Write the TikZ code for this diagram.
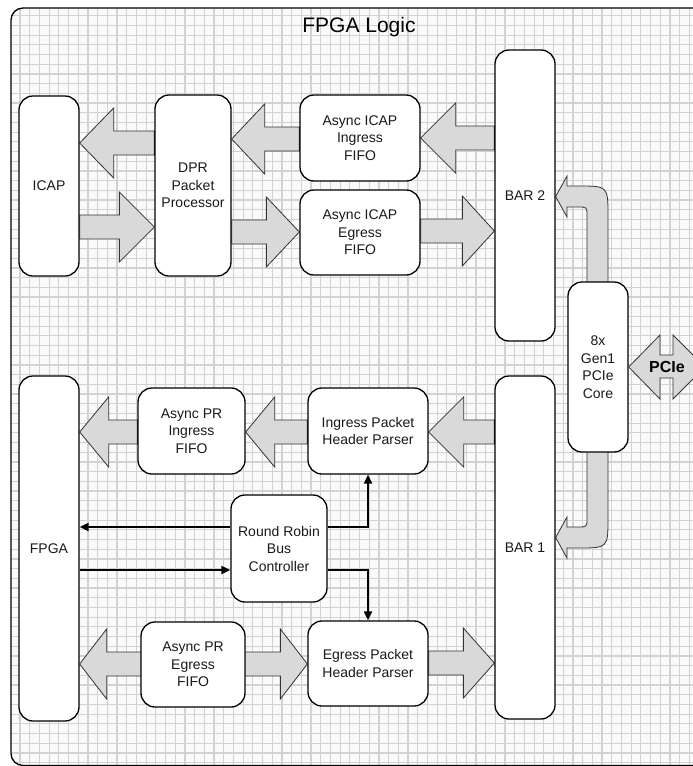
\documentclass[tikz,border=0pt]{standalone}
\usepackage{fontspec}
\setmainfont{Liberation Sans}
\usetikzlibrary{arrows.meta,calc}
\pgfdeclarelayer{gridlayer}
\pgfdeclarelayer{arrowlayer}
\pgfsetlayers{gridlayer,arrowlayer,main}
\definecolor{gridc}{HTML}{D2D2D2}
\definecolor{bgc}{HTML}{FAFAFA}
\definecolor{arrfill}{HTML}{D9D9D9}
\definecolor{arrdraw}{HTML}{333333}
\tikzset{
  box/.style={draw=black, line width=1.3pt, fill=white, rounded corners=14pt,
    align=center, font=\fontsize{14}{17.5}\selectfont, inner sep=2pt, text=black!90},
  blk/.style={fill=arrfill, draw=arrdraw, line width=0.8pt, line join=miter},
  sig/.style={draw=black, line width=2pt, -{Triangle[length=9pt,width=8pt]}},
}
% #1 tail anchor, #2 tip anchor, #3 pixel y, #4 head length
\newcommand\blkarrow[4]{%
  \path[blk] let \p1=(#1), \p2=(#2), \p3=(0,#3),
    \n1={ifthenelse(\x2>\x1,1,-1)} in
    (\x1,{\y3+12pt}) -- ({\x2-(\n1)*#4pt},{\y3+12pt}) -- ({\x2-(\n1)*#4pt},{\y3+35pt})
    -- (\x2,\y3) -- ({\x2-(\n1)*#4pt},{\y3-35pt}) -- ({\x2-(\n1)*#4pt},{\y3-12pt})
    -- (\x1,{\y3-12pt}) -- cycle;}
% double arrow: #1 left tip anchor, #2 right tip anchor, #3 pixel y, #4 head length
\newcommand\dblarrow[4]{%
  \path[blk] let \p1=(#1), \p2=(#2), \p3=(0,#3) in
    (\x1,\y3) -- ({\x1+#4pt},{\y3+35pt}) -- ({\x1+#4pt},{\y3+12pt})
    -- ({\x2-#4pt},{\y3+12pt}) -- ({\x2-#4pt},{\y3+35pt}) -- (\x2,\y3)
    -- ({\x2-#4pt},{\y3-35pt}) -- ({\x2-#4pt},{\y3-12pt})
    -- ({\x1+#4pt},{\y3-12pt}) -- ({\x1+#4pt},{\y3-35pt}) -- cycle;}
\begin{document}
\begin{tikzpicture}[x=1pt,y=-1pt]
\useasboundingbox (0,0) rectangle (693,766);
% frame background and grid
\begin{pgfonlayer}{gridlayer}
  \path[fill=bgc, rounded corners=12pt] (11,8) rectangle (720,765.5);
  \begin{scope}
    \clip[rounded corners=12pt] (11,8) rectangle (720,765.5);
    \foreach \i in {0,...,72} \draw[gridc, line width=1.2pt] ({10.3+\i*9.7},0) -- ({10.3+\i*9.7},770);
    \foreach \j in {0,...,80} \draw[gridc, line width=1.2pt] (0,{6+\j*9.7}) -- (700,{6+\j*9.7});
  \end{scope}
\end{pgfonlayer}
\draw[line width=1.3pt, rounded corners=12pt] (11,8) rectangle (720,765.5);

\node[font=\fontsize{21}{25}\selectfont] (title) at (359,27) {FPGA Logic};

% nodes
\node[box, minimum width=60pt, minimum height=180pt] (icap) at (49,186) {ICAP};
\node[box, minimum width=76pt, minimum height=181pt] (dpr) at (193,185.5) {DPR\\Packet\\Processor};
\node[box, minimum width=120pt, minimum height=86pt] (ififo) at (360,138) {Async ICAP\\Ingress\\FIFO};
\node[box, minimum width=120pt, minimum height=85pt] (efifo) at (360,232.5) {Async ICAP\\Egress\\FIFO};
\node[box, minimum width=60pt, minimum height=291pt] (bar2) at (525,195.5) {BAR 2};
\node[box, minimum width=60pt, minimum height=170pt] (core) at (598,367) {8x\\Gen1\\PCIe\\Core};
\node[box, minimum width=60pt, minimum height=343pt] (bar1) at (525,547.5) {BAR 1};
\node[box, minimum width=60pt, minimum height=345pt] (fpga) at (49,548.5) {FPGA};
\node[box, minimum width=107pt, minimum height=86pt] (prin) at (191.5,431) {Async PR\\Ingress\\FIFO};
\node[box, minimum width=120pt, minimum height=86pt] (iphp) at (368,431) {Ingress Packet\\Header Parser};
\node[box, minimum width=96pt, minimum height=107pt] (rr) at (279,548.5) {Round Robin\\Bus\\Controller};
\node[box, minimum width=104pt, minimum height=85pt] (preg) at (193,664.5) {Async PR\\Egress\\FIFO};
\node[box, minimum width=120pt, minimum height=85pt] (ephp) at (368,663.5) {Egress Packet\\Header Parser};

% block arrows
\begin{pgfonlayer}{arrowlayer}
  \blkarrow{bar2.west}{ififo.east}{138}{35}
  \blkarrow{ififo.west}{dpr.east}{139}{33}
  \blkarrow{dpr.west}{icap.east}{143}{34}
  \blkarrow{icap.east}{dpr.west}{227}{35}
  \blkarrow{dpr.east}{efifo.west}{232}{33}
  \blkarrow{efifo.east}{bar2.west}{231}{32}
  \blkarrow{bar1.west}{iphp.east}{432}{35}
  \blkarrow{iphp.west}{prin.east}{432}{29}
  \blkarrow{prin.west}{fpga.east}{432}{29}
  \blkarrow{ephp.east}{bar1.west}{663}{31}
  \dblarrow{fpga.east}{ephp.west}{664}{27}
  % curved arrows from the PCIe core
  \path[blk] (587,300) -- (587,216) .. controls (587,207) .. (578,207) -- (567,207)
    -- (567,217) -- (bar2.east |- 0,196.5) -- (567,176) -- (567,186) -- (578,186)
    .. controls (608,186) .. (608,216) -- (608,300) -- cycle;
  \path[blk] (587,440) -- (587,518) .. controls (587,527) .. (578,527) -- (567,527)
    -- (567,517) -- (bar1.east |- 0,537.5) -- (567,558) -- (567,548) -- (578,548)
    .. controls (608,548) .. (608,518) -- (608,440) -- cycle;
\end{pgfonlayer}

% PCIe external double arrow
\path[blk] (core.east) -- (660,335) -- (660,355) -- (673,355) -- (673,335) -- (705,367)
  -- (673,399) -- (673,378) -- (660,378) -- (660,399) -- cycle;
\node[font=\bfseries\fontsize{16}{19}\selectfont] (pcie) at (667,367) {PCIe};

% control signals
\coordinate (rrw1) at ([yshift=21.5pt]rr.west);
\coordinate (rrw2) at ([yshift=-21.5pt]rr.west);
\coordinate (rre1) at ([yshift=21.5pt]rr.east);
\coordinate (rre2) at ([yshift=-21.5pt]rr.east);
\draw[sig] (rrw1) -- (fpga.east |- rrw1);
\draw[sig] (fpga.east |- rrw2) -- (rrw2);
\draw[sig] (rre1) -| (iphp.south);
\draw[sig] (rre2) -| (ephp.north);
\end{tikzpicture}
\end{document}
